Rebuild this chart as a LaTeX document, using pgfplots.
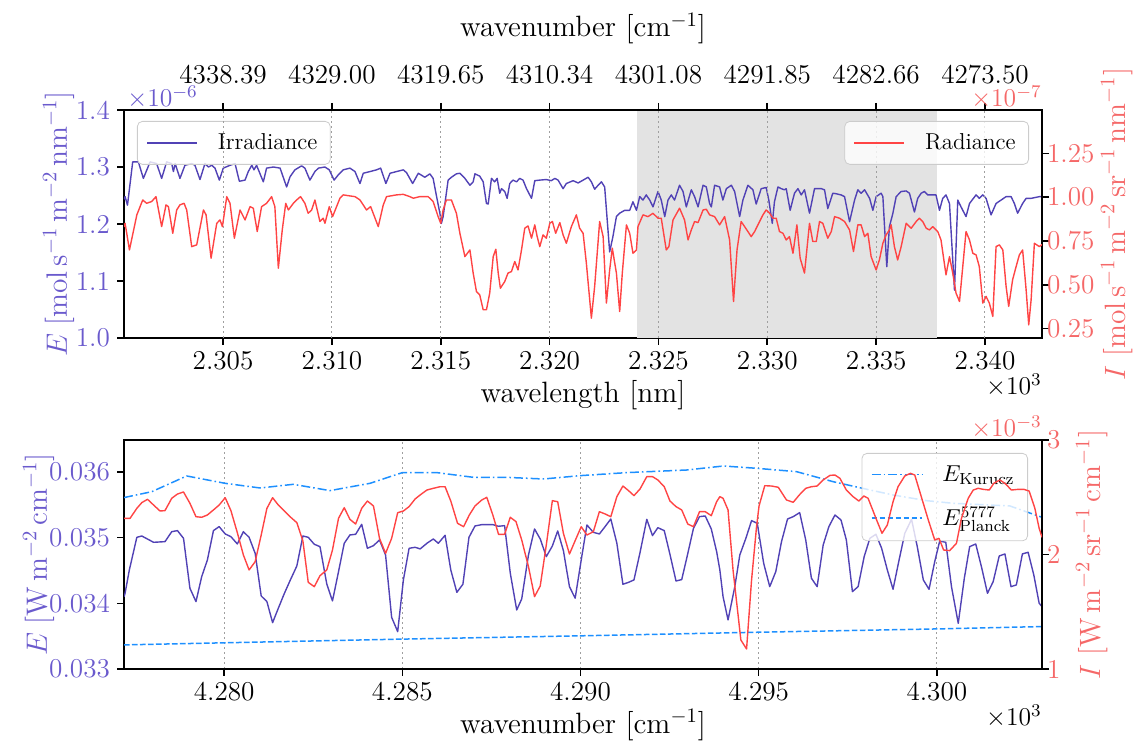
\RequirePackage{fix-cm}
\documentclass[border=0pt]{standalone}
\usepackage{pgfplots}
\pgfplotsset{compat=1.18}

\definecolor{eline}{HTML}{5142B5}
\definecolor{elabel}{HTML}{6A5ACD}
\definecolor{iline}{HTML}{FF4444}
\definecolor{ilabel}{HTML}{F56868}
\definecolor{kblue}{HTML}{1E90FF}
\definecolor{shade}{HTML}{E3E3E3}

\newcommand\tickfont{\fontsize{13.6}{16.3}\selectfont}
\newcommand\offfont{\fontsize{12.8}{15.4}\selectfont}
\newcommand\labfont{\fontsize{14.7}{17.6}\selectfont}
\newcommand\legfont{\fontsize{11.5}{13.8}\selectfont}

\pgfplotsset{
  panel/.style={
    scale only axis, width=459pt, no markers,
    tick align=outside, major tick length=3.5pt,
    tick style={black, line width=0.8pt},
    axis line style={line width=0.8pt},
    tick label style={font=\tickfont},
    label style={font=\labfont},
    grid style={gray!75, line width=0.5pt, dash pattern=on 1pt off 1.5pt},
    every axis plot/.append style={line width=0.7pt, line join=round},
    legend image code/.code={\draw[##1] (0pt,0pt) -- (25pt,0pt);},
    legend cell align=left,
    legend style={draw=black!20, rounded corners=2.5pt, fill=white,
      fill opacity=0.8, text opacity=1, font=\legfont,
      inner xsep=4.5pt, inner ysep=4pt,
      /tikz/every odd column/.append style={column sep=8pt}},
  },
}

\begin{document}
\begin{tikzpicture}
\path[use as bounding box] (0,0) rectangle (568.5pt,371.5pt);

% ---------------- top panel, left axis: irradiance
\begin{axis}[panel, name=A, at={(62pt,202.5pt)}, anchor=south west, height=114pt,
  xmin=2300.45, xmax=2342.62, ymin=1.0, ymax=1.4,
  xtick={2305,2310,2315,2320,2325,2330,2335,2340},
  xticklabels={2.305,2.310,2.315,2.320,2.325,2.330,2.335,2.340},
  xtick pos=left, ytick pos=left,
  ytick={1.0,1.1,1.2,1.3,1.4}, yticklabels={1.0,1.1,1.2,1.3,1.4},
  yticklabel style={text=elabel},
  xticklabel style={anchor=base, yshift=-12.2pt},
  xlabel={wavelength [nm]},
  every axis x label/.style={at={(axis description cs:0.5,0)}, anchor=base, yshift=-32.3pt, font=\labfont},
  ylabel={$E\;[\mathrm{mol\,s^{-1}\,m^{-2}\,nm^{-1}}]$},
  every axis y label/.style={at={(axis description cs:0,0.5)}, xshift=-28.5pt, rotate=90, anchor=base, text=elabel, font=\labfont},
  legend style={at={(0,1)}, anchor=north west, xshift=6.5pt, yshift=-5.5pt},
]
\addplot[fill=shade, draw=none, forget plot] coordinates {(2324.0,1.4) (2337.8,1.4)} \closedcycle;
\addplot[eline] coordinates {
(2300.45,1.243)(2300.50,1.248)(2300.61,1.233)(2300.85,1.309)(2301.11,1.309)(2301.34,1.280)(2301.65,1.309)(2301.95,1.306)
(2302.18,1.280)(2302.41,1.309)(2302.64,1.306)(2302.72,1.292)(2302.80,1.306)(2303.02,1.280)(2303.25,1.303)(2303.56,1.306)
(2303.71,1.303)(2303.94,1.278)(2304.17,1.306)(2304.33,1.300)(2304.48,1.303)(2304.63,1.298)(2304.83,1.277)(2305.01,1.298)
(2305.32,1.303)(2305.55,1.306)(2305.75,1.275)(2306.01,1.277)(2306.16,1.292)(2306.32,1.303)(2306.42,1.295)(2306.54,1.303)
(2306.85,1.274)(2307.00,1.298)(2307.31,1.300)(2307.62,1.298)(2307.92,1.265)(2308.08,1.283)(2308.30,1.295)(2308.61,1.302)
(2308.76,1.298)(2308.99,1.277)(2309.22,1.292)(2309.38,1.298)(2309.68,1.300)(2309.88,1.295)(2310.10,1.277)(2310.29,1.286)
(2310.52,1.295)(2310.83,1.298)(2311.06,1.292)(2311.29,1.271)(2311.44,1.289)(2311.75,1.292)(2312.05,1.295)(2312.24,1.298)
(2312.48,1.271)(2312.67,1.289)(2312.97,1.292)(2313.28,1.295)(2313.43,1.290)(2313.71,1.271)(2313.97,1.289)
(2314.27,1.282)(2314.50,1.288)(2314.65,1.280)(2314.81,1.248)(2314.96,1.219)(2315.03,1.201)(2315.11,1.213)(2315.34,1.277)
(2315.49,1.282)(2315.72,1.288)(2315.88,1.289)(2316.11,1.280)(2316.34,1.268)(2316.49,1.274)(2316.57,1.288)(2316.79,1.284)
(2316.95,1.274)(2317.10,1.236)(2317.18,1.235)(2317.33,1.280)(2317.48,1.274)(2317.59,1.280)(2317.71,1.254)(2317.79,1.262)
(2317.94,1.257)(2318.05,1.245)(2318.17,1.271)(2318.32,1.277)(2318.48,1.274)(2318.63,1.280)(2318.78,1.277)(2318.94,1.262)
(2319.17,1.245)(2319.32,1.276)(2319.55,1.277)(2319.85,1.278)(2320.08,1.276)(2320.24,1.280)(2320.39,1.277)(2320.62,1.262)
(2320.77,1.271)(2321.08,1.276)(2321.31,1.272)(2321.54,1.277)(2321.77,1.282)(2321.92,1.274)(2322.07,1.261)(2322.23,1.268)
(2322.38,1.274)(2322.53,1.265)(2322.76,1.151)(2322.91,1.178)(2323.07,1.213)(2323.22,1.219)(2323.45,1.224)(2323.68,1.224)
(2323.83,1.239)(2323.99,1.224)(2324.14,1.248)(2324.29,1.242)(2324.44,1.251)(2324.60,1.242)(2324.75,1.230)(2324.98,1.257)
(2325.13,1.242)(2325.29,1.213)(2325.44,1.242)(2325.59,1.251)(2325.74,1.242)(2325.97,1.268)(2326.13,1.257)(2326.28,1.230)
(2326.51,1.260)(2326.66,1.248)(2326.82,1.230)(2327.05,1.268)(2327.20,1.265)(2327.35,1.236)(2327.43,1.230)(2327.58,1.268)
(2327.81,1.265)(2327.96,1.242)(2328.12,1.262)(2328.35,1.268)(2328.50,1.257)(2328.73,1.213)(2328.88,1.242)(2329.11,1.268)
(2329.34,1.260)(2329.49,1.235)(2329.72,1.262)(2329.95,1.264)(2330.07,1.242)(2330.23,1.201)(2330.33,1.239)(2330.49,1.265)
(2330.64,1.262)(2330.79,1.260)(2330.87,1.262)(2331.05,1.224)(2331.25,1.254)(2331.41,1.262)(2331.56,1.251)(2331.71,1.260)
(2331.94,1.219)(2332.17,1.262)(2332.48,1.262)(2332.63,1.260)(2332.78,1.227)(2333.01,1.254)(2333.17,1.253)(2333.39,1.251)
(2333.55,1.248)(2333.78,1.204)(2334.01,1.242)(2334.16,1.260)(2334.31,1.254)(2334.47,1.260)(2334.70,1.245)(2334.85,1.224)
(2335.00,1.248)(2335.23,1.254)(2335.31,1.248)(2335.49,1.125)(2335.61,1.195)(2335.77,1.219)(2335.92,1.248)(2336.15,1.257)
(2336.38,1.258)(2336.53,1.254)(2336.76,1.221)(2336.91,1.245)(2337.07,1.254)(2337.22,1.257)(2337.37,1.251)(2337.60,1.251)
(2337.75,1.251)(2337.91,1.224)(2338.06,1.245)(2338.21,1.251)(2338.37,1.236)(2338.52,1.137)(2338.60,1.084)(2338.75,1.242)
(2338.90,1.230)(2339.13,1.213)(2339.29,1.236)(2339.59,1.251)(2339.74,1.245)(2339.90,1.251)(2340.05,1.245)(2340.28,1.216)
(2340.51,1.236)(2340.74,1.242)(2340.97,1.248)(2341.20,1.248)(2341.35,1.236)(2341.50,1.219)(2341.73,1.236)(2341.89,1.245)
(2342.12,1.245)(2342.50,1.248)(2342.62,1.248)
};
\addlegendentry{Irradiance}
\end{axis}

% ---------------- top panel, right axis: radiance
\begin{axis}[panel, name=B, at={(62pt,202.5pt)}, anchor=south west, height=114pt,
  xmin=2300.45, xmax=2342.62, ymin=0.197, ymax=1.497,
  axis x line*=top, axis y line*=right,
  xtick={2305,2310,2315,2320,2325,2330,2335,2340},
  xticklabels={4338.39,4329.00,4319.65,4310.34,4301.08,4291.85,4282.66,4273.50},
  xticklabel style={anchor=base, yshift=9.5pt},
  xmajorgrids,
  ytick={0.25,0.5,0.75,1.0,1.25}, yticklabels={0.25,0.50,0.75,1.00,1.25},
  yticklabel style={text=ilabel, xshift=-4.5pt},
  xlabel={wavenumber [cm$^{-1}$]},
  every axis x label/.style={at={(axis description cs:0.5,1)}, anchor=base, yshift=36.5pt, font=\labfont},
  ylabel={$I\;[\mathrm{mol\,s^{-1}\,m^{-2}\,sr^{-1}\,nm^{-1}}]$},
  every axis y label/.style={at={(axis description cs:1,0.5)}, xshift=41.5pt, rotate=90, anchor=base, text=ilabel, font=\labfont},
  legend style={at={(1,1)}, anchor=north east, xshift=-6.5pt, yshift=-5.5pt},
]
\addplot[iline] coordinates {
(2300.45,0.830)(2300.50,0.851)(2300.70,0.699)(2301.04,0.899)(2301.31,0.984)(2301.49,0.965)(2301.72,0.975)(2301.92,1.003)
(2302.18,0.832)(2302.38,0.956)(2302.49,0.946)(2302.69,0.794)(2302.87,0.927)(2303.02,0.956)(2303.21,0.965)(2303.33,0.927)
(2303.56,0.718)(2303.79,0.728)(2304.10,0.927)(2304.22,0.899)(2304.45,0.652)(2304.71,0.851)(2304.86,0.870)(2304.97,0.832)
(2305.17,1.003)(2305.32,0.965)(2305.52,0.766)(2305.78,0.927)(2306.01,0.870)(2306.24,0.946)(2306.39,0.937)(2306.57,0.804)
(2306.77,0.946)(2307.00,0.965)(2307.23,1.003)(2307.38,0.946)(2307.54,0.595)(2307.72,0.813)(2307.88,0.965)(2308.00,0.927)
(2308.23,0.965)(2308.38,0.984)(2308.56,1.003)(2308.76,0.965)(2308.91,0.908)(2309.07,0.927)(2309.22,0.984)(2309.45,0.861)
(2309.60,0.880)(2309.68,0.851)(2309.88,0.946)(2310.03,0.889)(2310.37,0.994)(2310.52,1.013)(2310.83,1.007)(2311.06,1.003)
(2311.29,0.984)(2311.59,0.927)(2311.78,0.946)(2312.13,0.832)(2312.36,0.956)(2312.51,1.003)(2312.97,1.013)(2313.28,1.016)
(2313.58,1.003)(2313.74,0.994)(2314.04,1.003)(2314.42,1.003)(2314.65,0.975)(2314.88,0.889)(2315.00,0.851)(2315.11,0.927)
(2315.26,0.984)(2315.49,0.984)(2315.72,0.908)(2315.88,0.794)(2316.11,0.661)(2316.34,0.699)(2316.49,0.567)(2316.64,0.462)
(2316.79,0.443)(2316.95,0.358)(2317.10,0.358)(2317.25,0.453)(2317.41,0.661)(2317.53,0.703)(2317.64,0.567)(2317.74,0.481)
(2317.94,0.519)(2318.09,0.567)(2318.25,0.576)(2318.40,0.633)(2318.55,0.585)(2318.71,0.699)(2318.86,0.823)(2319.01,0.836)
(2319.17,0.766)(2319.32,0.842)(2319.43,0.775)(2319.55,0.718)(2319.70,0.785)(2319.85,0.766)(2320.01,0.851)(2320.13,0.861)
(2320.28,0.794)(2320.47,0.855)(2320.62,0.785)(2320.77,0.737)(2321.00,0.832)(2321.23,0.899)(2321.38,0.823)(2321.54,0.794)
(2321.69,0.623)(2321.92,0.310)(2322.07,0.491)(2322.30,0.861)(2322.46,0.775)(2322.61,0.396)(2322.76,0.585)(2322.88,0.709)
(2323.07,0.567)(2323.22,0.348)(2323.34,0.567)(2323.53,0.842)(2323.68,0.794)(2323.83,0.680)(2323.99,0.699)(2324.06,0.832)
(2324.29,0.899)(2324.52,0.889)(2324.75,0.908)(2324.98,0.880)(2325.13,0.880)(2325.36,0.699)(2325.48,0.718)(2325.67,0.870)
(2325.97,0.937)(2326.20,0.870)(2326.36,0.756)(2326.51,0.813)(2326.66,0.861)(2326.82,0.855)(2327.05,0.927)(2327.20,0.931)
(2327.35,0.899)(2327.58,0.889)(2327.81,0.842)(2328.04,0.889)(2328.27,0.756)(2328.45,0.405)(2328.61,0.699)(2328.80,0.861)
(2328.96,0.832)(2329.11,0.804)(2329.26,0.775)(2329.42,0.804)(2329.57,0.842)(2329.80,0.899)(2329.95,0.927)(2330.11,0.908)
(2330.26,0.880)(2330.41,0.880)(2330.56,0.804)(2330.72,0.794)(2330.87,0.756)(2331.02,0.775)(2331.18,0.680)(2331.36,0.842)
(2331.51,0.652)(2331.71,0.567)(2331.94,0.851)(2332.09,0.747)(2332.25,0.747)(2332.40,0.861)(2332.55,0.851)(2332.78,0.766)
(2332.94,0.804)(2333.09,0.889)(2333.32,0.880)(2333.55,0.861)(2333.78,0.813)(2333.96,0.690)(2334.16,0.842)(2334.31,0.842)
(2334.47,0.775)(2334.62,0.794)(2334.77,0.661)(2335.00,0.585)(2335.15,0.642)(2335.31,0.737)(2335.46,0.785)(2335.61,0.813)
(2335.69,0.842)(2335.84,0.718)(2335.99,0.642)(2336.15,0.718)(2336.38,0.851)(2336.61,0.823)(2336.84,0.861)(2336.99,0.880)
(2337.14,0.861)(2337.30,0.823)(2337.45,0.813)(2337.60,0.832)(2337.83,0.804)(2337.98,0.756)(2338.21,0.557)(2338.37,0.661)
(2338.52,0.567)(2338.67,0.453)(2338.83,0.405)(2338.98,0.604)(2339.13,0.804)(2339.29,0.756)(2339.44,0.680)(2339.59,0.671)
(2339.74,0.604)(2339.90,0.396)(2340.05,0.434)(2340.20,0.396)(2340.36,0.320)(2340.51,0.718)(2340.66,0.728)(2340.82,0.699)
(2340.97,0.491)(2341.09,0.377)(2341.27,0.529)(2341.43,0.604)(2341.58,0.671)(2341.73,0.699)(2341.89,0.472)(2342.01,0.272)
(2342.12,0.415)(2342.27,0.737)(2342.50,0.718)(2342.62,0.730)
};
\addlegendentry{Radiance}
\end{axis}

% ---------------- bottom panel, left axis
\begin{axis}[panel, name=C, at={(62pt,37pt)}, anchor=south west, height=114.5pt,
  xmin=4277.19, xmax=4302.95, ymin=33, ymax=36.487,
  xtick={4280,4285,4290,4295,4300},
  xticklabels={4.280,4.285,4.290,4.295,4.300},
  xtick pos=left, ytick pos=left,
  ytick={33,34,35,36}, yticklabels={0.033,0.034,0.035,0.036},
  yticklabel style={text=elabel},
  xticklabel style={anchor=base, yshift=-12.2pt},
  xmajorgrids,
  xlabel={wavenumber [cm$^{-1}$]},
  every axis x label/.style={at={(axis description cs:0.5,0)}, anchor=base, yshift=-32.3pt, font=\labfont},
  ylabel={$E\;[\mathrm{W\,m^{-2}\,cm^{-1}}]$},
  every axis y label/.style={at={(axis description cs:0,0.5)}, xshift=-38.5pt, rotate=90, anchor=base, text=elabel, font=\labfont},
  legend style={at={(1,1)}, anchor=north east, xshift=-7pt, yshift=-6.5pt, row sep=7.5pt},
]
\addplot[eline, forget plot] coordinates {
(4277.19,34.100)(4277.22,34.153)(4277.34,34.508)(4277.55,35.005)(4277.69,35.025)(4278.02,34.929)(4278.34,34.939)(4278.53,35.091)
(4278.69,35.107)(4278.86,34.990)(4279.04,34.229)(4279.21,34.026)(4279.37,34.406)(4279.53,34.660)(4279.70,35.107)(4279.86,35.168)
(4280.03,35.056)(4280.19,35.015)(4280.37,34.904)(4280.54,35.091)(4280.70,35.005)(4280.87,34.762)(4281.04,34.112)(4281.20,34.026)
(4281.36,33.706)(4281.52,33.924)(4281.68,34.138)(4281.85,34.346)(4282.04,34.569)(4282.21,35.025)(4282.36,35.005)(4282.53,34.899)
(4282.69,34.863)(4282.88,34.295)(4283.04,34.036)(4283.21,34.483)(4283.37,34.914)(4283.53,35.041)(4283.69,35.051)(4283.86,35.203)
(4284.02,34.838)(4284.19,34.878)(4284.36,34.965)(4284.53,34.736)(4284.70,33.787)(4284.87,33.569)(4285.03,34.356)(4285.19,34.838)
(4285.36,34.853)(4285.50,34.828)(4285.69,34.914)(4285.87,34.980)(4286.01,34.914)(4286.20,35.036)(4286.36,34.508)(4286.53,34.168)
(4286.70,34.290)(4286.87,35.005)(4287.04,35.178)(4287.23,35.198)(4287.37,35.198)(4287.54,35.198)(4287.70,35.173)(4287.87,35.183)
(4288.03,34.457)(4288.21,33.899)(4288.35,34.066)(4288.54,34.736)(4288.71,35.132)(4288.87,34.980)(4289.04,34.711)(4289.21,34.873)
(4289.36,35.102)(4289.52,34.802)(4289.69,34.254)(4289.85,34.077)(4290.02,34.660)(4290.18,35.193)(4290.36,35.081)(4290.53,35.056)
(4290.69,35.168)(4290.85,35.284)(4291.02,34.914)(4291.19,34.290)(4291.35,34.320)(4291.50,34.356)(4291.67,34.772)(4291.86,35.279)
(4292.02,35.031)(4292.17,35.152)(4292.35,35.107)(4292.51,34.746)(4292.68,34.340)(4292.84,34.361)(4292.98,34.686)(4293.17,35.142)
(4293.34,35.320)(4293.50,35.330)(4293.67,35.132)(4293.82,34.787)(4293.91,34.508)(4294.00,34.102)(4294.14,33.747)(4294.33,34.254)
(4294.47,34.736)(4294.64,34.990)(4294.80,35.259)(4294.96,35.218)(4295.14,34.609)(4295.31,34.254)(4295.48,34.483)(4295.64,34.939)
(4295.81,35.284)(4295.97,35.320)(4296.15,35.381)(4296.32,34.965)(4296.48,34.381)(4296.64,34.254)(4296.81,34.889)(4296.97,35.168)
(4297.14,35.345)(4297.31,35.269)(4297.46,34.965)(4297.63,34.178)(4297.79,34.254)(4297.96,34.711)(4298.12,34.990)(4298.29,35.051)
(4298.45,34.838)(4298.61,34.508)(4298.77,34.214)(4298.93,34.635)(4299.10,35.066)(4299.29,35.279)(4299.45,34.863)(4299.62,34.356)
(4299.78,34.214)(4299.94,34.635)(4300.08,34.949)(4300.25,34.929)(4300.41,34.254)(4300.60,33.696)(4300.77,34.381)(4300.92,34.863)
(4301.09,34.904)(4301.25,34.559)(4301.42,34.153)(4301.58,34.330)(4301.75,34.721)(4301.91,34.752)(4302.08,34.254)(4302.23,34.280)
(4302.40,34.752)(4302.56,34.777)(4302.72,34.432)(4302.87,34.001)(4302.95,33.950)
};
\addplot[kblue, line width=0.75pt, dash pattern=on 4.5pt off 1.5pt on 0.8pt off 1.5pt] coordinates {
(4277.19,35.610)(4277.97,35.700)(4278.95,35.939)(4280.03,35.827)(4281.01,35.756)(4281.94,35.812)(4282.97,35.716)(4284.09,35.827)
(4285.00,35.990)(4285.97,35.990)(4287.00,35.918)(4287.93,35.918)(4288.96,35.893)(4289.99,35.944)(4291.30,35.990)(4292.98,36.030)
(4294.01,36.091)(4294.94,36.056)(4296.06,36.005)(4297.09,35.852)(4298.12,35.726)(4298.77,35.650)(4299.71,35.563)(4300.46,35.523)
(4302.05,35.482)(4302.95,35.310)
};
\addlegendentry{$E_{\mathrm{Kurucz}}$}
\addplot[kblue, line width=0.75pt, dash pattern=on 2.8pt off 1.2pt] coordinates {
(4277.19,33.367)(4281.00,33.410)(4285.00,33.455)(4290.00,33.505)(4295.00,33.560)(4300.00,33.610)(4302.95,33.646)
};
\addlegendentry{$E^{5777}_{\mathrm{Planck}}$}
\end{axis}

% ---------------- bottom panel, right axis
\begin{axis}[panel, name=D, at={(62pt,37pt)}, anchor=south west, height=114.5pt,
  xmin=4277.19, xmax=4302.95, ymin=1, ymax=3,
  hide x axis, axis y line*=right,
  ytick={1,2,3}, yticklabels={1,2,3},
  yticklabel style={text=ilabel, xshift=-4.5pt},
  ylabel={$I\;[\mathrm{W\,m^{-2}\,sr^{-1}\,cm^{-1}}]$},
  every axis y label/.style={at={(axis description cs:1,0.5)}, xshift=29pt, rotate=90, anchor=base, text=ilabel, font=\labfont},
]
\addplot[iline] coordinates {
(4277.19,2.316)(4277.36,2.316)(4277.55,2.403)(4277.69,2.453)(4277.85,2.482)(4278.02,2.432)(4278.20,2.380)(4278.34,2.383)
(4278.53,2.491)(4278.69,2.528)(4278.86,2.546)(4279.04,2.447)(4279.21,2.330)(4279.37,2.325)(4279.53,2.345)(4279.70,2.389)
(4279.86,2.432)(4280.03,2.496)(4280.19,2.383)(4280.37,2.191)(4280.54,1.996)(4280.70,1.865)(4280.87,1.937)(4281.04,2.170)
(4281.20,2.403)(4281.36,2.496)(4281.52,2.432)(4281.68,2.383)(4281.85,2.330)(4282.04,2.278)(4282.21,2.118)(4282.36,1.757)
(4282.53,1.719)(4282.69,1.815)(4282.88,1.865)(4283.04,2.039)(4283.21,2.316)(4283.37,2.409)(4283.53,2.307)(4283.69,2.266)
(4283.86,2.403)(4284.02,2.467)(4284.19,2.424)(4284.36,2.141)(4284.53,2.010)(4284.70,2.141)(4284.87,2.365)(4285.03,2.380)
(4285.19,2.418)(4285.36,2.485)(4285.50,2.520)(4285.69,2.563)(4285.87,2.578)(4286.06,2.592)(4286.20,2.592)(4286.36,2.467)
(4286.55,2.272)(4286.72,2.243)(4286.88,2.345)(4287.04,2.424)(4287.23,2.476)(4287.37,2.499)(4287.54,2.345)(4287.70,2.176)
(4287.87,2.176)(4288.03,2.325)(4288.19,2.287)(4288.35,2.127)(4288.54,1.894)(4288.71,1.632)(4288.87,1.725)(4289.04,2.083)
(4289.21,2.470)(4289.36,2.461)(4289.52,2.185)(4289.69,2.004)(4289.85,2.121)(4290.02,2.243)(4290.18,2.170)(4290.36,2.199)
(4290.53,2.374)(4290.69,2.354)(4290.85,2.330)(4291.02,2.505)(4291.19,2.598)(4291.35,2.557)(4291.50,2.514)(4291.67,2.572)
(4291.86,2.680)(4292.02,2.680)(4292.17,2.651)(4292.35,2.592)(4292.51,2.467)(4292.68,2.418)(4292.84,2.389)(4293.01,2.266)
(4293.17,2.243)(4293.34,2.374)(4293.50,2.374)(4293.67,2.339)(4293.82,2.461)(4293.91,2.505)(4294.00,2.491)(4294.14,2.389)
(4294.28,1.865)(4294.50,1.253)(4294.66,1.175)(4294.80,1.777)(4294.94,2.243)(4295.01,2.424)(4295.17,2.601)(4295.36,2.598)
(4295.55,2.587)(4295.78,2.476)(4295.97,2.456)(4296.14,2.520)(4296.32,2.578)(4296.48,2.592)(4296.64,2.598)(4296.81,2.651)
(4297.00,2.691)(4297.14,2.694)(4297.28,2.665)(4297.46,2.563)(4297.65,2.505)(4297.81,2.467)(4297.95,2.511)(4298.07,2.491)
(4298.31,2.301)(4298.46,2.185)(4298.61,2.258)(4298.77,2.461)(4298.91,2.592)(4299.10,2.686)(4299.26,2.709)(4299.38,2.694)
(4299.52,2.549)(4299.76,2.301)(4299.94,2.127)(4300.06,2.141)(4300.19,2.039)(4300.36,2.034)(4300.55,2.098)(4300.69,2.316)
(4300.88,2.491)(4301.02,2.563)(4301.16,2.578)(4301.30,2.569)(4301.47,2.563)(4301.60,2.622)(4301.77,2.651)(4301.93,2.616)
(4302.09,2.563)(4302.28,2.569)(4302.44,2.569)(4302.59,2.554)(4302.75,2.403)(4302.87,2.229)(4302.95,2.150)
};
\end{axis}

% offset labels
\node[anchor=base west, inner sep=0pt, text=elabel, font=\offfont] at ([xshift=1.5pt,yshift=1.5pt]A.north west) {$\times10^{-6}$};
\node[anchor=base east, inner sep=0pt, text=ilabel, font=\offfont] at ([yshift=1.5pt]A.north east) {$\times10^{-7}$};
\node[anchor=base east, inner sep=0pt, font=\offfont] at ([yshift=-28.5pt]A.south east) {$\times10^{3}$};
\node[anchor=base east, inner sep=0pt, font=\offfont] at ([yshift=-28.5pt]C.south east) {$\times10^{3}$};
\node[anchor=base east, inner sep=0pt, text=ilabel, font=\offfont] at ([yshift=1.5pt]C.north east) {$\times10^{-3}$};
\end{tikzpicture}
\end{document}
